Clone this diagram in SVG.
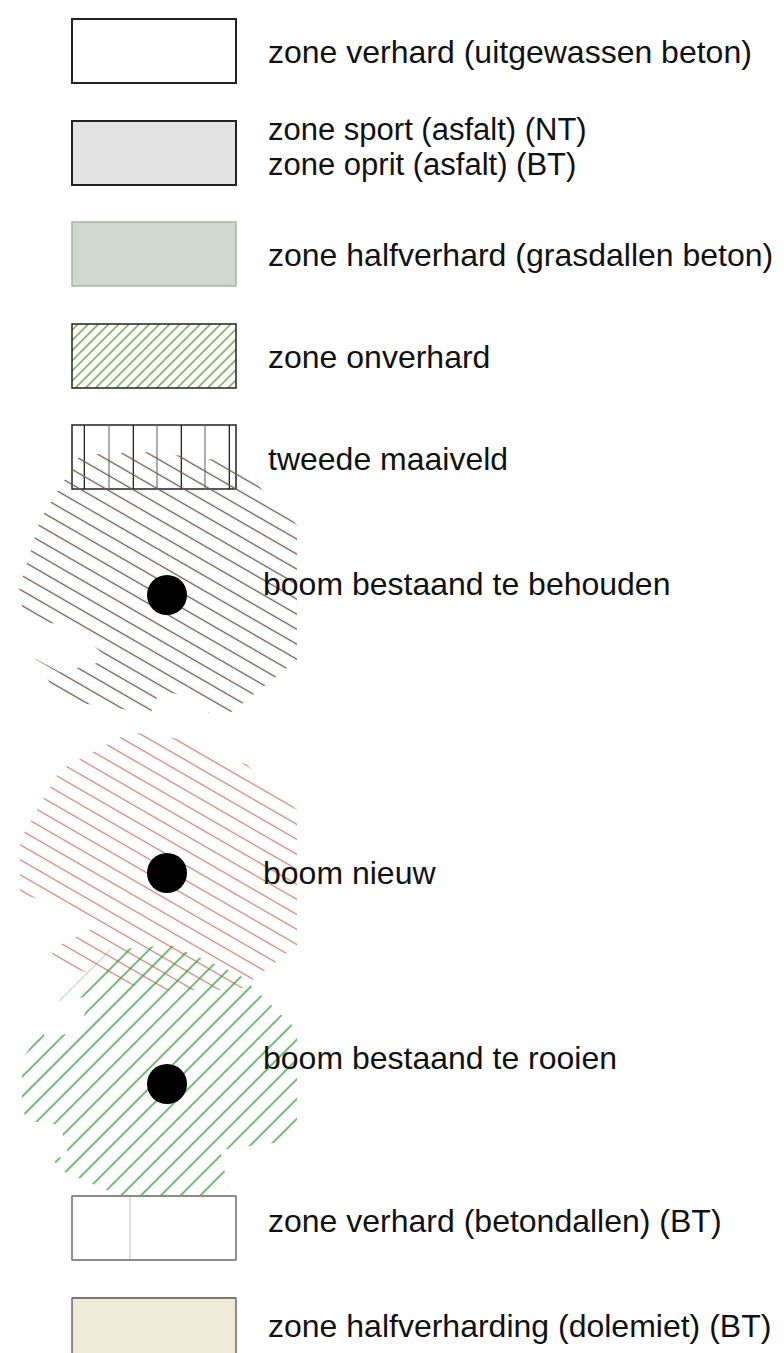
<svg xmlns="http://www.w3.org/2000/svg" width="784" height="1353" viewBox="0 0 784 1353">
<style>
  .lbl { font-family: "Liberation Sans", Arial, sans-serif; font-size: 32px; fill: #111; }
  .lbl2 { font-family: "Liberation Sans", Arial, sans-serif; font-size: 31px; fill: #111; }
  .box { stroke: #222; stroke-width: 2; }
  .dot { fill: #000; }
</style>
<defs>
  <pattern id="pOnv" width="20" height="7.2" patternUnits="userSpaceOnUse" patternTransform="rotate(-45)">
    <line x1="0" y1="3.6" x2="20" y2="3.6" stroke="#4f8f1f" stroke-width="1.2"/>
  </pattern>
  <pattern id="pT1" width="20" height="13" patternUnits="userSpaceOnUse" patternTransform="rotate(30)">
    <line x1="0" y1="6.5" x2="20" y2="6.5" stroke="#6a5a4c" stroke-width="1.3"/>
  </pattern>
  <pattern id="pT2" width="20" height="13" patternUnits="userSpaceOnUse" patternTransform="rotate(30)">
    <line x1="0" y1="6.5" x2="20" y2="6.5" stroke="#cc8679" stroke-width="1.3"/>
  </pattern>
  <pattern id="pT3" width="20" height="14" patternUnits="userSpaceOnUse" patternTransform="rotate(-45)">
    <line x1="0" y1="7" x2="20" y2="7" stroke="#35a03a" stroke-width="1.4"/>
  </pattern>
  <clipPath id="c1"><polygon points="80,455 150,452 235,462 297,525 297,660 230,713 150,713 60,700 30,650 19,590 40,520"/></clipPath>
  <clipPath id="c2"><polygon points="130,732 225,745 297,810 297,945 240,990 150,990 60,965 20,905 20,840 60,770"/></clipPath>
  <clipPath id="c3"><polygon points="110,950 170,945 240,975 297,1030 297,1130 250,1180 200,1196 120,1196 60,1170 22,1110 22,1060 60,1000"/></clipPath>
  <mask id="m1">
    <rect x="0" y="440" width="320" height="290" fill="#fff"/>
    <polygon points="19,620 70,625 110,660 60,672 19,650" fill="#000"/>
    <polygon points="160,690 200,700 210,715 150,715" fill="#000"/>
    <polygon points="250,470 300,470 300,500 270,495" fill="#000"/>
  </mask>
  <mask id="m2">
    <rect x="0" y="720" width="320" height="290" fill="#fff"/>
    <polygon points="20,895 70,905 100,925 60,945 20,930" fill="#000"/>
    <polygon points="200,735 260,745 250,765 205,755" fill="#000"/>
  </mask>
  <mask id="m3">
    <rect x="0" y="935" width="320" height="270" fill="#fff"/>
    <polygon points="22,1120 60,1125 70,1160 30,1150" fill="#000"/>
    <polygon points="220,1150 297,1140 297,1196 230,1196" fill="#000"/>
    <polygon points="40,1010 90,995 80,1030 45,1040" fill="#000"/>
  </mask>
</defs>

<g id="legend-verhard">
  <rect class="box" x="72" y="19" width="164" height="64" fill="#fff"/>
  <text class="lbl" x="268" y="63">zone verhard (uitgewassen beton)</text>
</g>
<g id="legend-asfalt">
  <rect class="box" x="72" y="121" width="164" height="64" fill="#e3e3e3"/>
  <text class="lbl2" x="268" y="140">zone sport (asfalt) (NT)</text>
  <text class="lbl2" x="268" y="175">zone oprit (asfalt) (BT)</text>
</g>
<g id="legend-halfverhard">
  <rect x="72" y="222" width="164" height="64" fill="#cfd8cd" stroke="#a9b4a7" stroke-width="1.5"/>
  <text class="lbl" x="268" y="266">zone halfverhard (grasdallen beton)</text>
</g>
<g id="legend-onverhard">
  <rect x="72" y="324" width="164" height="64" fill="#fff"/>
  <rect x="72" y="324" width="164" height="64" fill="url(#pOnv)" stroke="#222" stroke-width="1.5"/>
  <text class="lbl" x="268" y="368">zone onverhard</text>
</g>
<g id="legend-maaiveld">
  <rect x="72" y="425" width="164" height="64" fill="#fff" stroke="#222" stroke-width="1.5"/>
  <g stroke-width="1.2">
    <line x1="84.3" y1="425" x2="84.3" y2="489" stroke="#111"/>
    <line x1="109" y1="425" x2="109" y2="489" stroke="#777"/>
    <line x1="133.3" y1="425" x2="133.3" y2="489" stroke="#111"/>
    <line x1="157" y1="425" x2="157" y2="489" stroke="#777"/>
    <line x1="181.3" y1="425" x2="181.3" y2="489" stroke="#111"/>
    <line x1="205" y1="425" x2="205" y2="489" stroke="#777"/>
    <line x1="229.3" y1="425" x2="229.3" y2="489" stroke="#111"/>
  </g>
  <text class="lbl" x="268" y="470">tweede maaiveld</text>
</g>
<g id="legend-boom-behouden">
  <g mask="url(#m1)"><rect x="0" y="440" width="320" height="290" fill="url(#pT1)" clip-path="url(#c1)"/></g>
  <circle class="dot" cx="167" cy="595" r="20"/>
  <text class="lbl" x="263" y="595">boom bestaand te behouden</text>
</g>
<g id="legend-boom-nieuw">
  <g mask="url(#m2)"><rect x="0" y="720" width="320" height="290" fill="url(#pT2)" clip-path="url(#c2)"/></g>
  <circle class="dot" cx="167" cy="873" r="20"/>
  <text class="lbl" x="263" y="884">boom nieuw</text>
</g>
<g id="legend-boom-rooien">
  <g mask="url(#m3)"><rect x="0" y="935" width="320" height="270" fill="url(#pT3)" clip-path="url(#c3)"/></g>
  <circle class="dot" cx="167" cy="1084" r="20"/>
  <text class="lbl" x="263" y="1069">boom bestaand te rooien</text>
</g>
<g id="legend-betondallen">
  <rect x="72" y="1196" width="164" height="64" fill="#fff" stroke="#222" stroke-width="1"/>
  <line x1="72" y1="1196" x2="236" y2="1196" stroke="#8a8a8a" stroke-width="2"/>
  <line x1="72" y1="1260" x2="236" y2="1260" stroke="#8a8a8a" stroke-width="2"/>
  <line x1="130" y1="1197" x2="130" y2="1259" stroke="#c8c8c8" stroke-width="1.2"/>
  <text class="lbl" x="268" y="1232">zone verhard (betondallen) (BT)</text>
</g>
<g id="legend-dolemiet">
  <rect x="72" y="1298" width="164" height="70" fill="#efead6" stroke="#222" stroke-width="1"/>
  <line x1="72" y1="1298" x2="236" y2="1298" stroke="#777" stroke-width="2"/>
  <text class="lbl" x="268" y="1337">zone halfverharding (dolemiet) (BT)</text>
</g>
</svg>
